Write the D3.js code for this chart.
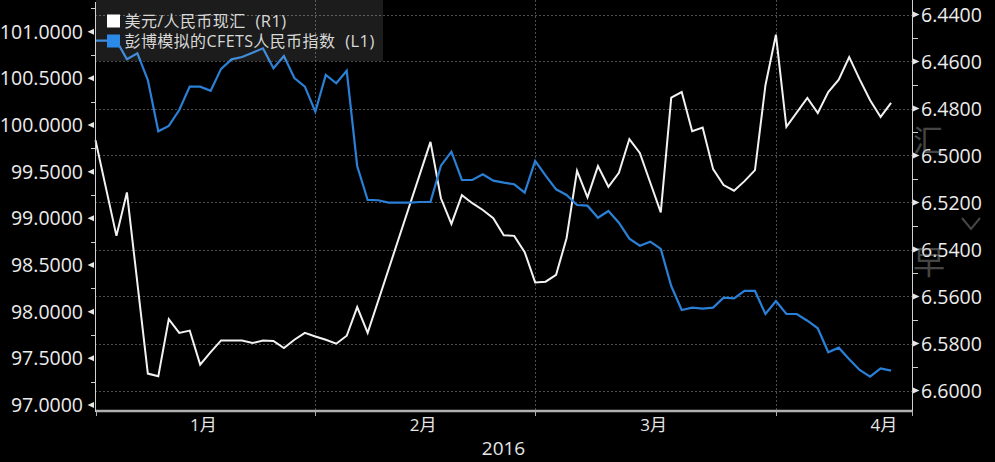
<!DOCTYPE html>
<html><head><meta charset="utf-8">
<script src="https://cdn.jsdelivr.net/npm/d3@7/dist/d3.min.js"></script>
<style>
html,body{margin:0;padding:0;background:#000;}
svg{display:block;}
</style></head><body>
<svg id="c" width="995" height="462"></svg>
<script>
// ---------------- data ----------------
const seriesNames = ["美元/人民币现汇 (R1)", "彭博模拟的CFETS人民币指数 (L1)"];
const monthLabels = ["1月", "2月", "3月", "4月"];
const yearLabel = "2016";
const leftTicks = [97.0, 97.5, 98.0, 98.5, 99.0, 99.5, 100.0, 100.5, 101.0];
const rightTicks = [6.44, 6.46, 6.48, 6.50, 6.52, 6.54, 6.56, 6.58, 6.60];
// one value per trading day (weekday) from 2016-01-01; null = no print
const usdcny = [
  6.4935, null, 6.5342, 6.5157, null, 6.5928, 6.5939, 6.5696, 6.5755, 6.5745,
  6.5890, 6.5837, 6.5787, 6.5787, 6.5787, 6.5798, 6.5787, 6.5789, 6.5819, 6.5784,
  6.5755, 6.5770, 6.5784, 6.5801, 6.5767, 6.5645, 6.5755, null, null, null,
  null, null, 6.4942, 6.5182, 6.5291, 6.5169, 6.5203, 6.5232, 6.5267, 6.5339,
  6.5342, 6.5411, 6.5540, 6.5537, 6.5508, 6.5352, 6.5065, 6.5178, 6.5045, 6.5133,
  6.5074, 6.4930, 6.4989, 6.5116, 6.5242, 6.4754, 6.4730, 6.4897, 6.4881, 6.5058,
  6.5126, 6.5150, 6.5109, 6.5062, 6.4701, 6.4486, 6.4878, null, 6.4755, 6.4819,
  6.4730, 6.4677, 6.4581, 6.4676, 6.4765, 6.4836, 6.4776
];
const cfets = [
  100.904, 100.904, 100.904, 100.704, 100.769, 100.482, 99.933, 99.990, 100.161, 100.411,
  100.411, 100.367, 100.602, 100.704, 100.729, 100.775, 100.822, 100.608, 100.740, 100.504,
  100.411, 100.143, 100.536, 100.447, 100.582, 99.561, 99.197, 99.194, 99.168, 99.168,
  99.168, 99.175, 99.175, 99.564, 99.714, 99.411, 99.411, 99.472, 99.404, 99.382,
  99.365, 99.275, 99.615, 99.457, 99.311, 99.250, 99.143, 99.136, 99.007, 99.079,
  98.954, 98.782, 98.707, 98.750, 98.672, 98.275, 98.018, 98.043, 98.032, 98.043,
  98.150, 98.143, 98.222, 98.222, 97.975, 98.115, 97.975, 97.975, 97.903, 97.822,
  97.565, 97.614, 97.490, 97.375, 97.303, 97.393, 97.368
];

// ---------------- calendar (weekdays) ----------------
const days = d3.timeDays(new Date(2016, 0, 1), new Date(2016, 4, 1))
  .filter(d => d.getDay() !== 0 && d.getDay() !== 6);
const monthStart = [], monthEnd = [];
days.forEach((d, i) => {
  const m = d.getMonth();
  if (monthStart[m] === undefined) monthStart[m] = i;
  monthEnd[m] = i + 1;
});

// ---------------- layout ----------------
const svg = d3.select("#c");
const L = 95, R = 912, T = 0, B = 411;
const x = d3.scaleLinear().domain([0, 78]).range([95.5, R]);
const yL = d3.scaleLinear().domain([97, 101]).range([405, 31.7]);
const yR = d3.scaleLinear().domain([6.44, 6.60]).range([14.5, 390.5]);

svg.append("rect").attr("width", 995).attr("height", 462).attr("fill", "#000");

// grid
const grid = svg.append("g").attr("stroke", "#4d4d4d").attr("stroke-width", 1)
  .attr("stroke-dasharray", "2,2");
grid.selectAll("line.h").data(rightTicks).join("line").attr("class", "h")
  .attr("x1", L).attr("x2", R)
  .attr("y1", d => Math.round(yR(d)) + 0.5).attr("y2", d => Math.round(yR(d)) + 0.5);
grid.selectAll("line.v").data(monthStart.slice(1)).join("line").attr("class", "v")
  .attr("y1", T).attr("y2", B)
  .attr("x1", d => Math.round(x(d)) + 0.5).attr("x2", d => Math.round(x(d)) + 0.5);

// lines
const usdPts = usdcny.map((v, i) => [i, v]).filter(p => p[1] !== null);
const cfPts = cfets.map((v, i) => [i, v]).filter(p => p[1] !== null);
svg.append("path").datum(usdPts)
  .attr("fill", "none").attr("stroke", "#f2f2f2").attr("stroke-width", 2)
  .attr("d", d3.line().x(p => x(p[0])).y(p => yR(p[1])));
svg.append("path").datum(cfPts)
  .attr("fill", "none").attr("stroke", "#2a7fd6").attr("stroke-width", 2.2)
  .attr("d", d3.line().x(p => x(p[0])).y(p => yL(p[1])));

// legend
const lg = svg.append("g");
lg.append("rect").attr("x", 96).attr("y", 0).attr("width", 287).attr("height", 61)
  .attr("fill", "#ffffff").attr("fill-opacity", 0.11);
const legendColors = ["#ffffff", "#2b8ae8"];
seriesNames.forEach((name, k) => {
  const cy = 21 + k * 20;
  lg.append("rect").attr("x", 107).attr("y", cy - 6.5).attr("width", 13).attr("height", 13)
    .attr("fill", legendColors[k]);
  const cut = name.lastIndexOf(" (");
  const t = lg.append("text").attr("x", 124.5).attr("y", cy + 5.5)
    .attr("fill", "#d8d8d8").attr("font-size", 16).attr("letter-spacing", 0.4)
    .attr("font-family", "'Open Sans','Noto Sans CJK SC',sans-serif");
  t.append("tspan").text(name.slice(0, cut));
  t.append("tspan").attr("dx", 10).attr("font-size", 16.5).text(name.slice(cut + 1));
});

// axes lines
svg.append("line").attr("x1", L + 0.5).attr("x2", L + 0.5).attr("y1", 2).attr("y2", 412)
  .attr("stroke", "#d0d0d0").attr("stroke-width", 1);
svg.append("line").attr("x1", R + 0.5).attr("x2", R + 0.5).attr("y1", 0).attr("y2", 412)
  .attr("stroke", "#d0d0d0").attr("stroke-width", 1);
svg.append("line").attr("x1", L + 1).attr("x2", R).attr("y1", B).attr("y2", B)
  .attr("stroke", "#b0b0b0").attr("stroke-width", 2.5);

// x ticks at month boundaries
svg.selectAll("line.xt").data(monthStart.concat([78])).join("line").attr("class", "xt")
  .attr("x1", d => Math.round(x(d)) + 0.5).attr("x2", d => Math.round(x(d)) + 0.5)
  .attr("y1", B).attr("y2", B + 5).attr("stroke", "#b0b0b0");

const numFont = "'Open Sans','Noto Sans',sans-serif";
// left axis
svg.selectAll("path.lt").data(leftTicks).join("path").attr("class", "lt")
  .attr("d", d => { const y = yL(d); return `M94,${y - 3}L87.5,${y}L94,${y + 3}Z`; })
  .attr("fill", "#e6e6e6");
svg.selectAll("line.lm").data(d3.range(97.25, 101.3, 0.5)).join("line").attr("class", "lm")
  .attr("x1", 91).attr("x2", L)
  .attr("y1", d => Math.round(yL(d)) + 0.5).attr("y2", d => Math.round(yL(d)) + 0.5)
  .attr("stroke", "#d0d0d0");
svg.selectAll("text.ll").data(leftTicks).join("text").attr("class", "ll")
  .attr("x", 83).attr("y", d => yL(d)).attr("dy", "0.36em")
  .attr("text-anchor", "end").attr("fill", "#ececec")
  .attr("font-size", 19.5).attr("font-family", numFont)
  .text(d => d3.format(".4f")(d));

// right axis
svg.selectAll("path.rt").data(rightTicks).join("path").attr("class", "rt")
  .attr("d", d => { const y = yR(d); return `M913,${y - 3}L919.5,${y}L913,${y + 3}Z`; })
  .attr("fill", "#e6e6e6");
svg.selectAll("line.rm").data(d3.range(6.45, 6.595, 0.02)).join("line").attr("class", "rm")
  .attr("x1", R).attr("x2", R + 6)
  .attr("y1", d => Math.round(yR(d)) + 0.5).attr("y2", d => Math.round(yR(d)) + 0.5)
  .attr("stroke", "#d0d0d0");
svg.selectAll("text.rl").data(rightTicks).join("text").attr("class", "rl")
  .attr("x", 921).attr("y", d => yR(d)).attr("dy", "0.36em")
  .attr("text-anchor", "start").attr("fill", "#ececec")
  .attr("font-size", 19.5).attr("font-family", numFont)
  .text(d => d3.format(".4f")(d));

// month labels
svg.selectAll("text.ml").data(monthLabels).join("text").attr("class", "ml")
  .attr("x", (d, i) => x((monthStart[i] + monthEnd[i]) / 2) - 2)
  .attr("y", 431).attr("text-anchor", "middle").attr("fill", "#e6e6e6")
  .attr("font-size", 17).attr("font-family", "'Open Sans','Noto Sans CJK SC',sans-serif")
  .text(d => d);
svg.append("text").attr("x", (L + R) / 2).attr("y", 455).attr("text-anchor", "middle")
  .attr("fill", "#e6e6e6").attr("font-size", 19).attr("font-family", numFont)
  .text(yearLabel);

// faint overlay widget at right edge
const ov = svg.append("g").attr("opacity", 0.45);
ov.append("text").attr("x", 913).attr("y", 151).attr("fill", "#9a9a9a")
  .attr("font-size", 30).attr("font-family", "'Noto Sans CJK SC',sans-serif").text("汇");
ov.append("path").attr("d", "M962,218L971,229L980,218").attr("fill", "none")
  .attr("stroke", "#9a9a9a").attr("stroke-width", 2);
ov.append("text").attr("x", 913).attr("y", 274).attr("fill", "#9a9a9a")
  .attr("font-size", 32).attr("font-family", "'Noto Sans CJK SC',sans-serif").text("早");
</script>
</body></html>
